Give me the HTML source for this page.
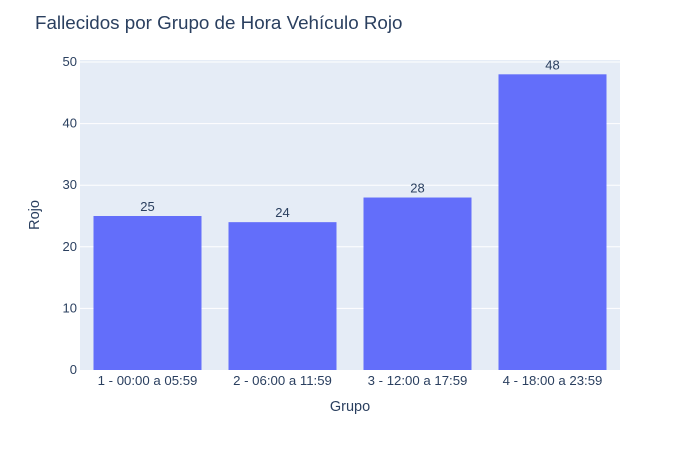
<!DOCTYPE html>
<html><head><meta charset="utf-8"><style>
body{margin:0;background:#fff;font-family:"Liberation Sans",sans-serif;}
text{font-family:"Liberation Sans",sans-serif;fill:#2a3f5f;}
</style></head><body>
<svg id="chart" width="700" height="450" xmlns="http://www.w3.org/2000/svg">
<rect width="700" height="450" fill="#fff"/>
<text x="35" y="29" font-size="18.8">Fallecidos por Grupo de Hora Vehículo Rojo</text>
<rect x="80" y="60" width="540" height="310" fill="#e5ecf6"/>
<g id="grid"></g><g id="bars"></g><g id="labels"></g><g id="yticks"></g><g id="xticks"></g>
<text x="350" y="411" font-size="14.5" text-anchor="middle">Grupo</text>
<text transform="translate(39,215) rotate(-90)" font-size="14.5" text-anchor="middle">Rojo</text>
</svg>
<script>
const categories=["1 - 00:00 a 05:59","2 - 06:00 a 11:59","3 - 12:00 a 17:59","4 - 18:00 a 23:59"];
const values=[25,24,28,48];
const yTicks=[0,10,20,30,40,50];
const NS="http://www.w3.org/2000/svg";
const x0=80,x1=620,yBase=370,yTop=62,yMax=50;
function y(v){return yBase-(v/yMax)*(yBase-yTop);}
function band(i){return x0+(x1-x0)/categories.length*i;}
const bw=(x1-x0)/categories.length;
function mk(tag,attrs,parent){const e=document.createElementNS(NS,tag);for(const k in attrs)e.setAttribute(k,attrs[k]);document.getElementById(parent).appendChild(e);return e;}
yTicks.forEach(t=>{
  if(t>0){const g=mk('line',{x1:x0,x2:x1,y1:y(t),y2:y(t),stroke:'#fff','stroke-width':1},'grid');
  
  }
  const tx=mk('text',{x:x0-3,y:y(t)+4,'font-size':13,'text-anchor':'end'},'yticks');
  tx.textContent=t;
  
  
});
categories.forEach((c,i)=>{
  const bx=band(i)+bw*0.1, w=bw*0.8;
  const r=mk('rect',{x:bx,y:y(values[i]),width:w,height:yBase-y(values[i]),fill:'#636efa'},'bars');
  
  
  const l=mk('text',{x:band(i)+bw/2,y:y(values[i])-5,'font-size':13,'text-anchor':'middle'},'labels');
  l.textContent=values[i];
  
  
  const t=mk('text',{x:band(i)+bw/2,y:yBase+15,'font-size':13.2,'text-anchor':'middle'},'xticks');
  t.textContent=c;
  
  
});
</script>
</body></html>
